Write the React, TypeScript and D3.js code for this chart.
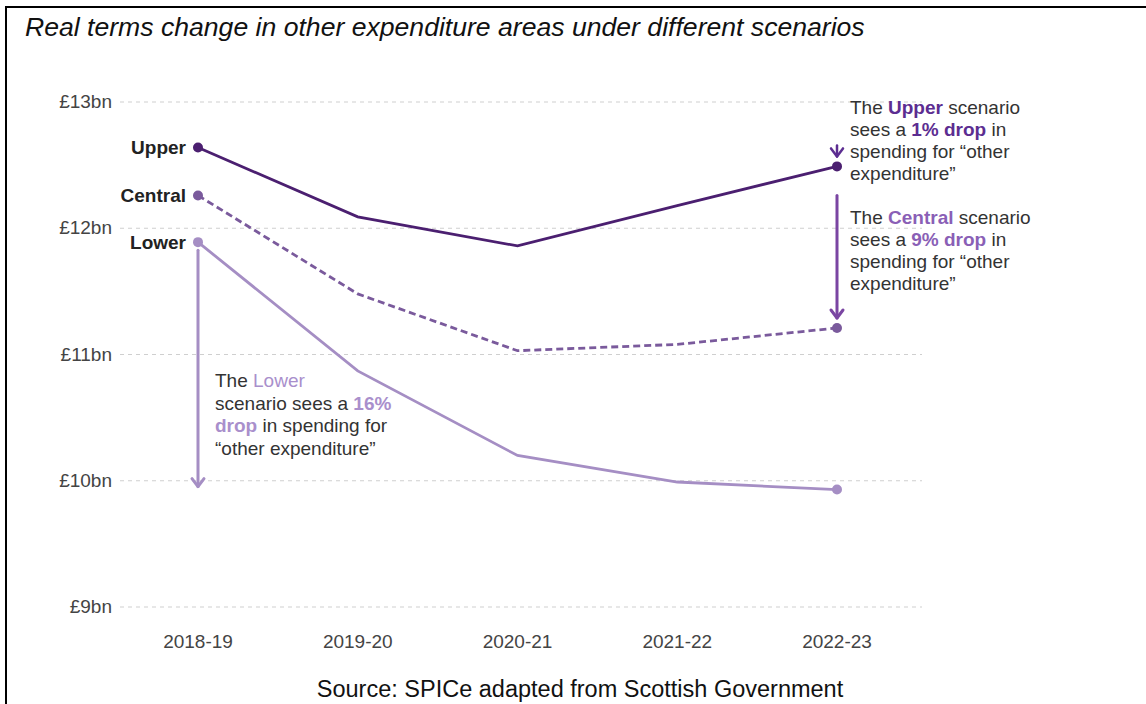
import React from "react";
import * as d3 from "d3";

const years = ["2018-19", "2019-20", "2020-21", "2021-22", "2022-23"];
const upper = [12.64, 12.09, 11.86, 12.18, 12.49];
const central = [12.26, 11.48, 11.03, 11.08, 11.21];
const lower = [11.89, 10.87, 10.2, 9.99, 9.93];
const yTicks = [13, 12, 11, 10, 9];
const seriesNames = ["Upper", "Central", "Lower"];

const W = 1146;
const H = 704;
const FONT = "'Liberation Sans', Arial, Helvetica, sans-serif";

const C_UPPER = "#4b1f70";
const C_CENTRAL = "#7a5a9c";
const C_LOWER = "#a58ec4";
const T_UPPER = "#5c2d91";
const T_CENTRAL = "#8a5fb6";
const T_LOWER = "#a98fcc";
const A_CENTRAL = "#7a45a2";

type Seg = { t: string; c?: string; b?: boolean };

const upperNote: Seg[][] = [
  [{ t: "The " }, { t: "Upper", c: T_UPPER, b: true }, { t: " scenario" }],
  [{ t: "sees a " }, { t: "1% drop", c: T_UPPER, b: true }, { t: " in" }],
  [{ t: "spending for \u201cother" }],
  [{ t: "expenditure\u201d" }],
];
const centralNote: Seg[][] = [
  [{ t: "The " }, { t: "Central", c: T_CENTRAL, b: true }, { t: " scenario" }],
  [{ t: "sees a " }, { t: "9% drop", c: T_CENTRAL, b: true }, { t: " in" }],
  [{ t: "spending for \u201cother" }],
  [{ t: "expenditure\u201d" }],
];
const lowerNote: Seg[][] = [
  [{ t: "The " }, { t: "Lower", c: T_LOWER }],
  [{ t: "scenario sees a " }, { t: "16%", c: T_LOWER, b: true }],
  [{ t: "drop", c: T_LOWER, b: true }, { t: " in spending for" }],
  [{ t: "\u201cother expenditure\u201d" }],
];

function Note({ lines, x, y, lh }: { lines: Seg[][]; x: number; y: number; lh: number }) {
  return (
    <text fontFamily={FONT} fontSize={19} fill="#333">
      {lines.map((segs, i) => (
        <tspan key={i} x={x} y={y + i * lh}>
          {segs.map((s, j) => (
            <tspan key={j} fill={s.c || "#333"} fontWeight={s.b ? "bold" : "normal"}>
              {s.t}
            </tspan>
          ))}
        </tspan>
      ))}
    </text>
  );
}

function Arrow({ x, y1, y2, color, w = 3 }: { x: number; y1: number; y2: number; color: string; w?: number }) {
  const hw = 6;
  const hh = 8;
  return (
    <g stroke={color} strokeWidth={w} fill="none" strokeLinecap="round" strokeLinejoin="round">
      <line x1={x} x2={x} y1={y1} y2={y2} />
      <path d={`M${x - hw},${y2 - hh} L${x},${y2} L${x + hw},${y2 - hh}`} />
    </g>
  );
}

export default function App() {
  const x = d3.scalePoint<string>().domain(years).range([198, 837]);
  const y = d3.scaleLinear().domain([9, 13]).range([607, 102]);
  const line = d3
    .line<number>()
    .x((_, i) => x(years[i]) as number)
    .y((d) => y(d));

  const series = [
    { name: seriesNames[0], data: upper, color: C_UPPER, dash: undefined as string | undefined },
    { name: seriesNames[1], data: central, color: C_CENTRAL, dash: "7,4" },
    { name: seriesNames[2], data: lower, color: C_LOWER, dash: undefined },
  ];

  const x0 = x(years[0]) as number;
  const xN = x(years[years.length - 1]) as number;
  const last = years.length - 1;

  return (
    <svg width={W} height={H} style={{ position: "absolute", left: 0, top: 0, background: "#fff" }}>
      <rect x={0} y={0} width={W} height={H} fill="#fff" />
      {/* frame */}
      <line x1={6} x2={W} y1={7} y2={7} stroke="#000" strokeWidth={2} />
      <line x1={6} x2={6} y1={6} y2={H} stroke="#000" strokeWidth={2} />

      <text x={25} y={36} fontFamily={FONT} fontStyle="italic" fontSize={26.6} fill="#111">
        Real terms change in other expenditure areas under different scenarios
      </text>

      {/* grid */}
      {yTicks.map((t) => (
        <g key={t}>
          <line x1={120} x2={922} y1={y(t)} y2={y(t)} stroke="#cfcfcf" strokeWidth={1.2} strokeDasharray="4,4" />
          <text x={112} y={y(t) + 6} textAnchor="end" fontFamily={FONT} fontSize={19} fill="#444">
            {`£${t}bn`}
          </text>
        </g>
      ))}

      {years.map((yr) => (
        <text key={yr} x={x(yr)} y={648} textAnchor="middle" fontFamily={FONT} fontSize={19} fill="#444">
          {yr}
        </text>
      ))}

      {/* lines */}
      {series.map((s) => (
        <path key={s.name} d={line(s.data) || ""} fill="none" stroke={s.color} strokeWidth={2.8} strokeDasharray={s.dash} />
      ))}
      {series.map((s) => (
        <g key={s.name + "d"}>
          <circle cx={x0} cy={y(s.data[0])} r={5} fill={s.color} />
          <circle cx={xN} cy={y(s.data[last])} r={5} fill={s.color} />
          <text x={186} y={y(s.data[0]) + 6.5} textAnchor="end" fontFamily={FONT} fontSize={19} fontWeight="bold" fill="#222">
            {s.name}
          </text>
        </g>
      ))}

      {/* arrows */}
      <Arrow x={x0} y1={y(lower[0]) + 8} y2={y(lower[last]) - 3} color={C_LOWER} />
      <Arrow x={xN} y1={y(central[0])} y2={y(central[last]) - 10} color={A_CENTRAL} />
      <Arrow x={xN} y1={y(upper[0]) - 2} y2={y(upper[last]) - 10} color={T_UPPER} w={2.5} />

      <Note lines={upperNote} x={850} y={114} lh={22} />
      <Note lines={centralNote} x={850} y={224} lh={22} />
      <Note lines={lowerNote} x={215} y={387} lh={22.5} />

      <text x={580} y={697} textAnchor="middle" fontFamily={FONT} fontSize={23.5} fill="#111">
        Source: SPICe adapted from Scottish Government
      </text>
    </svg>
  );
}
